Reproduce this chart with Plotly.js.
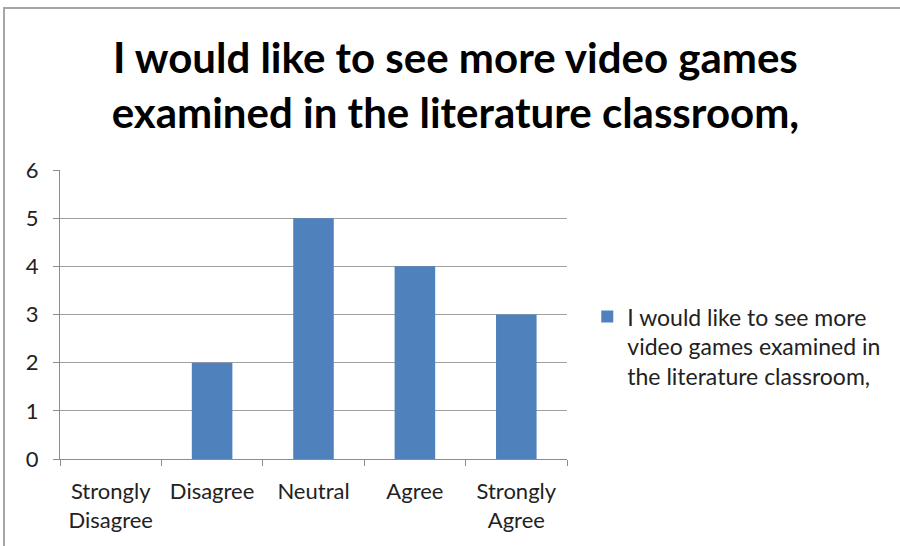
<!DOCTYPE html>
<html>
<head>
<meta charset="utf-8">
<script src="https://cdn.plot.ly/plotly-3.0.1.min.js"></script>
<style>
  html, body { margin: 0; padding: 0; background: #fff; }
  #frame { position: absolute; left: 3px; top: 7px; width: 897px; height: 539px;
           border-top: 2px solid #a6a6a6; border-left: 2px solid #a6a6a6; box-sizing: border-box; pointer-events: none; z-index: 5; }
  #chart { width: 900px; height: 546px; }
</style>
</head>
<body>
<div id="frame"></div>
<div id="chart"></div>
<script>
const categories = ["Strongly<br>Disagree", "Disagree", "Neutral", "Agree", "Strongly<br>Agree"];
const counts = [0, 2, 5, 4, 3];
const seriesName = "I would like to see more<br>video games examined in<br>the literature classroom,";
const titleText = "I would like to see more video games<br>examined in the literature classroom,";
const yTicks = [0, 1, 2, 3, 4, 5, 6];

const font = "Lato, 'Open Sans', sans-serif";

Plotly.newPlot("chart", [{
  type: "bar",
  x: categories,
  y: counts,
  name: seriesName,
  marker: { color: "#4F81BD" },
  showlegend: true
}], {
  width: 900, height: 546,
  margin: { l: 60, r: 333, t: 170, b: 87 },
  paper_bgcolor: "#fff", plot_bgcolor: "#fff",
  bargap: 0.6,
  title: {
    text: titleText,
    font: { family: font, size: 42, color: "#000", weight: "bold" },
    x: 0.506, xanchor: "center", xref: "container",
    y: 0.866, yanchor: "middle", yref: "container"
  },
  xaxis: {
    type: "category",
    tickson: "boundaries",
    ticks: "outside", ticklen: 6, tickcolor: "#8c8c8c",
    showline: true, linecolor: "#8c8c8c", linewidth: 1,
    showgrid: false,
    tickfont: { family: font, size: 22, color: "#222" },
    ticklabelstandoff: 13,
    fixedrange: true
  },
  yaxis: {
    range: [0, 6],
    tickvals: yTicks,
    ticks: "outside", ticklen: 6, tickcolor: "#8c8c8c",
    showline: true, linecolor: "#8c8c8c", linewidth: 1,
    showgrid: true, gridcolor: "#a0a0a0", gridwidth: 1,
    zeroline: false,
    tickfont: { family: font, size: 22, color: "#222" },
    ticklabelstandoff: 10,
    fixedrange: true
  },
  showlegend: true,
  legend: {
    x: 1.04, xanchor: "left", xref: "paper",
    y: 0.567, yanchor: "top",
    valign: "top",
    font: { family: font, size: 23, color: "#222" },
    bgcolor: "rgba(0,0,0,0)"
  }
}, { displayModeBar: false, staticPlot: true });
</script>
</body>
</html>
